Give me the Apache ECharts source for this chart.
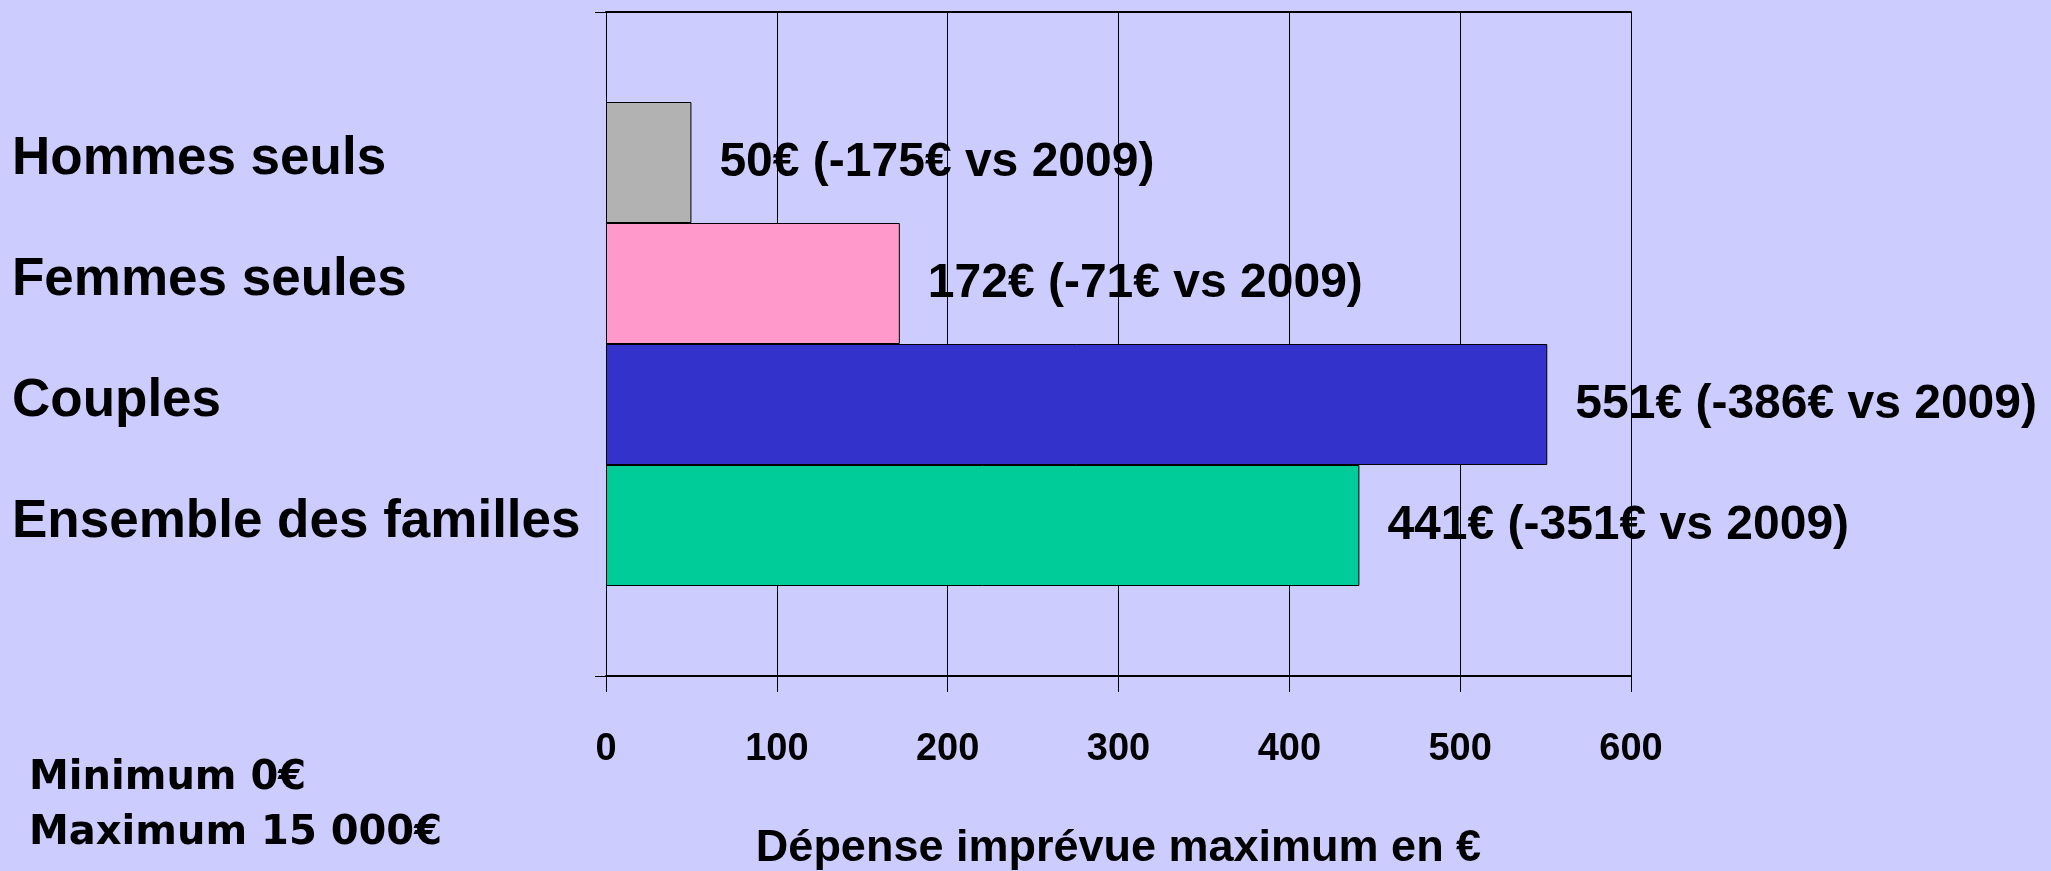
<!DOCTYPE html>
<html><head><meta charset="utf-8">
<script src="https://cdn.jsdelivr.net/npm/echarts/dist/echarts.min.js"></script>
<style>html,body{margin:0;padding:0;background:#CCCCFF}#c{width:2051px;height:871px}</style>
</head><body><div id="c"></div>
<script>
const categories = ['Hommes seuls', 'Femmes seules', 'Couples', 'Ensemble des familles'];
const values = [50, 172, 551, 441];
const changesVs2009 = [-175, -71, -386, -351];
const barColors = ['#B2B2B2', '#FF99CC', '#3333CC', '#00CC99'];
const xTicks = [0, 100, 200, 300, 400, 500, 600];
const xAxisTitle = 'Dépense imprévue maximum en €';
const noteLines = ['Minimum 0€', 'Maximum 15 000€'];

const sans = "'Liberation Sans', Arial, sans-serif";
const xMin = xTicks[0], xMax = xTicks[xTicks.length - 1], xStep = xTicks[1] - xTicks[0];

const chart = echarts.init(document.getElementById('c'), null, {renderer: 'canvas'});
chart.setOption({
  backgroundColor: '#CCCCFF',
  animation: false,
  title: {
    text: noteLines.join('\n'),
    left: 29, top: 751, padding: 0,
    textStyle: {fontFamily: "'DejaVu Sans', sans-serif", fontWeight: 'bold', fontSize: 40, lineHeight: 55, color: '#000'}
  },
  grid: [
    {left: 606, right: 420, top: 12, bottom: 195, containLabel: false, outerBoundsMode: 'none'},
    {left: 606, right: 420, top: 102, bottom: 285, containLabel: false, outerBoundsMode: 'none'}
  ],
  xAxis: [
    {
      type: 'value', gridIndex: 0, min: xMin, max: xMax, interval: xStep, z: 3,
      axisLine: {show: true, lineStyle: {color: '#000', width: 2}},
      axisTick: {show: true, length: 16, lineStyle: {color: '#000', width: 1}},
      splitLine: {show: true, lineStyle: {color: '#000', width: 1}},
      axisLabel: {margin: 55, fontFamily: sans, fontWeight: 'bold', fontSize: 38, color: '#000'},
      name: xAxisTitle, nameLocation: 'middle', nameGap: 150,
      nameTextStyle: {fontFamily: sans, fontWeight: 'bold', fontSize: 45, color: '#000'}
    },
    {
      type: 'value', gridIndex: 0, position: 'top', min: xMin, max: xMax, interval: xStep, z: 3,
      axisLine: {show: true, lineStyle: {color: '#000', width: 2}},
      axisTick: {show: false}, axisLabel: {show: false}, splitLine: {show: false}
    },
    {
      type: 'value', gridIndex: 1, min: xMin, max: xMax, interval: xStep, show: false
    }
  ],
  yAxis: [
    {
      type: 'category', gridIndex: 0, data: [''], z: 3,
      axisLine: {show: true, lineStyle: {color: '#000', width: 1}},
      axisTick: {show: true, length: 11, lineStyle: {color: '#000', width: 1}},
      axisLabel: {show: false}, splitLine: {show: false}
    },
    {
      type: 'category', gridIndex: 1, data: categories, inverse: true,
      axisLine: {show: false}, axisTick: {show: false}, splitLine: {show: false},
      axisLabel: {
        align: 'left', margin: 594,
        formatter: v => `{n|${v}}`,
        rich: {n: {fontFamily: sans, fontWeight: 'bold', fontSize: 53, color: '#000', padding: [0, 0, 7, 0]}},
        fontFamily: sans, fontWeight: 'bold', fontSize: 53, color: '#000'
      }
    }
  ],
  series: [
    {
      name: 'labels', type: 'bar', xAxisIndex: 2, yAxisIndex: 1, z: 2,
      barCategoryGap: '0%', silent: true,
      data: values,
      itemStyle: {color: 'rgba(0,0,0,0)'},
      label: {
        show: true, position: 'right', distance: 28,
        formatter: p => `${values[p.dataIndex]}€ (${changesVs2009[p.dataIndex]}€ vs 2009)`,
        fontFamily: sans, fontWeight: 'bold', fontSize: 48, color: '#000'
      }
    },
    {
      name: 'bars', type: 'bar', xAxisIndex: 2, yAxisIndex: 1, z: 4,
      barCategoryGap: '0%', barGap: '-100%', silent: true,
      data: values.map((v, i) => ({value: v, itemStyle: {color: barColors[i]}})),
      itemStyle: {borderColor: '#000', borderWidth: 1}
    }
  ]
});
</script></body></html>
